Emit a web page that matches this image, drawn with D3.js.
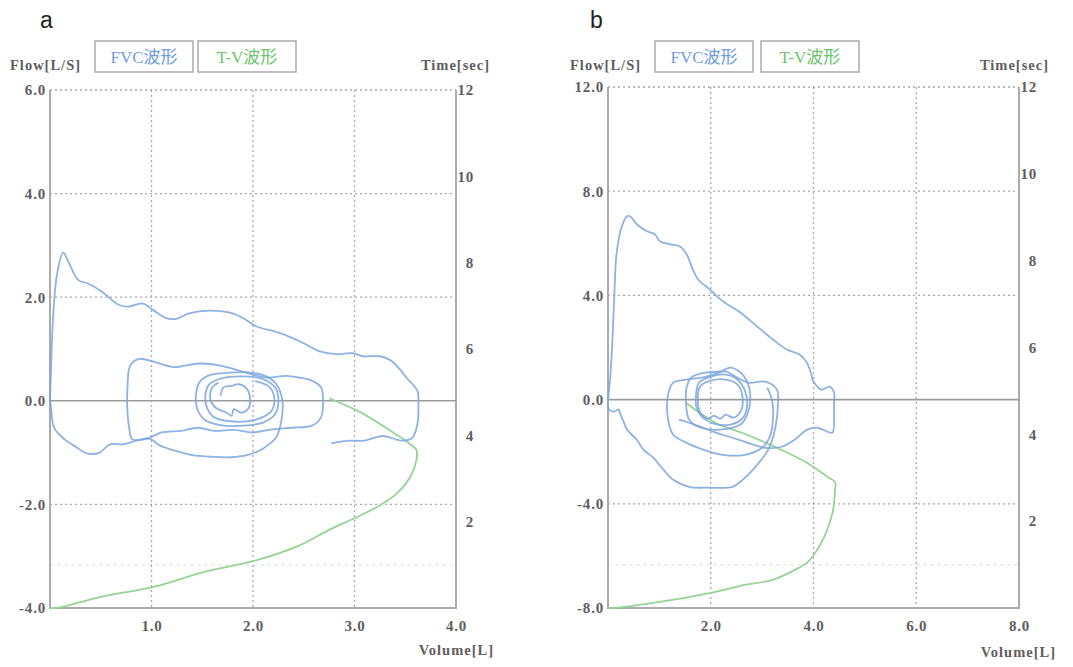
<!DOCTYPE html>
<html><head><meta charset="utf-8">
<script src="https://cdn.jsdelivr.net/npm/d3@7"></script>
<style>body{margin:0;background:#fff}svg{display:block}</style>
</head><body>
<svg id="c" width="1073" height="667"></svg>
<script>
// ---------- tick labels ----------
const timeTicks = [2, 4, 6, 8, 10, 12];
const volTicksA = [1, 2, 3, 4];
const flowTicksA = [-4, -2, 0, 2, 4, 6];
const volTicksB = [2, 4, 6, 8];
const flowTicksB = [-8, -4, 0, 4, 8, 12];
const legendLabels = ["FVC波形", "T-V波形"];
const panelLetters = ["a", "b"];

// ---------- panel a : FVC waveform [volume L, flow L/s] ----------
const fvcA_expiration = [[0,0],[0.01,0.6],[0.03,1.6],[0.07,2.45],[0.13,2.86],[0.18,2.69],[0.28,2.33],[0.38,2.26],[0.51,2.11],[0.68,1.85],[0.78,1.82],[0.91,1.88],[1.01,1.76],[1.14,1.60],[1.24,1.58],[1.37,1.69],[1.57,1.74],[1.80,1.69],[1.90,1.60],[2.03,1.44],[2.26,1.31],[2.49,1.12],[2.65,0.96],[2.82,0.90],[2.98,0.92],[3.08,0.86],[3.25,0.86],[3.35,0.79],[3.45,0.60],[3.51,0.45],[3.62,0.19],[3.63,-0.06],[3.62,-0.45],[3.57,-0.71],[3.47,-0.77],[3.28,-0.68],[3.09,-0.77],[2.96,-0.77],[2.77,-0.82]];
const fvcA_inspiration = [[0,0],[0.01,-0.13],[0.04,-0.52],[0.14,-0.74],[0.24,-0.87],[0.37,-1.02],[0.49,-1.0],[0.59,-0.84],[0.72,-0.84],[0.85,-0.77],[0.98,-0.73],[1.08,-0.86],[1.21,-0.95],[1.40,-1.05],[1.59,-1.08],[1.78,-1.09],[1.94,-1.05],[2.10,-0.92],[2.23,-0.70],[2.28,-0.38],[2.29,0],[2.23,0.32],[2.12,0.48],[1.95,0.55],[1.75,0.54],[1.58,0.50],[1.48,0.38],[1.44,0.15],[1.45,-0.15],[1.52,-0.36],[1.68,-0.47],[1.90,-0.48],[2.10,-0.42],[2.22,-0.25],[2.25,0.0],[2.22,0.25],[2.10,0.42],[1.90,0.47],[1.70,0.44],[1.57,0.32],[1.53,0.10],[1.55,-0.15],[1.62,-0.32],[1.80,-0.40],[2.02,-0.37],[2.18,-0.2],[2.21,0.05],[2.16,0.27],[2.02,0.38]];
const fvcA_wideLoop = [[0.77,0.52],[0.80,0.71],[0.88,0.81],[1.01,0.76],[1.10,0.71],[1.23,0.65],[1.33,0.68],[1.49,0.72],[1.68,0.68],[1.87,0.58],[2.13,0.45],[2.32,0.48],[2.45,0.45],[2.58,0.39],[2.67,0.26],[2.69,0],[2.67,-0.32],[2.58,-0.48],[2.38,-0.52],[2.19,-0.55],[2.0,-0.61],[1.81,-0.56],[1.62,-0.58],[1.46,-0.52],[1.29,-0.58],[1.10,-0.61],[0.94,-0.74],[0.81,-0.74],[0.78,-0.52],[0.76,-0.06],[0.77,0.52]];
const fvcA_innerCurl = [[1.68,0.10],[1.71,0.26],[1.79,0.29],[1.86,0.32],[1.94,0.23],[1.97,0.06],[1.96,-0.13],[1.89,-0.23],[1.81,-0.16],[1.79,-0.29],[1.74,-0.23],[1.63,-0.13],[1.58,0.03],[1.60,0.26],[1.66,0.35]];
// ---------- panel a : T-V waveform [volume L, time s] ----------
const tvA = [[0,0],[0.07,0],[0.50,0.26],[1.02,0.49],[1.53,0.84],[2.01,1.09],[2.43,1.42],[2.75,1.81],[3.0,2.08],[3.26,2.39],[3.42,2.66],[3.55,3.04],[3.61,3.43],[3.61,3.66],[3.52,3.85],[3.39,4.05],[3.07,4.52],[2.75,4.86]];

// ---------- panel b : FVC waveform [volume L, flow L/s] ----------
const fvcB_expiration = [[0,0],[0.04,0.77],[0.08,2.04],[0.12,3.85],[0.17,5.65],[0.27,6.65],[0.37,7.04],[0.43,7.04],[0.56,6.73],[0.76,6.46],[0.91,6.35],[1.01,6.08],[1.21,5.96],[1.40,5.88],[1.53,5.58],[1.65,5.0],[1.75,4.62],[1.98,4.23],[2.24,3.77],[2.57,3.35],[2.90,2.81],[3.21,2.31],[3.48,1.92],[3.73,1.73],[3.87,1.42],[3.97,0.88],[3.98,0.77],[4.15,0.38],[4.31,0.5],[4.40,0.27],[4.40,-0.12],[4.40,-0.5],[4.37,-1.27],[4.27,-1.23],[4.08,-1.08],[3.88,-1.15],[3.63,-1.54],[3.38,-1.81],[3.06,-1.85],[2.67,-1.62],[2.23,-1.35],[1.85,-1.08],[1.52,-0.85],[1.38,-0.77]];
const fvcB_inspiration = [[0,0],[0.02,-0.38],[0.12,-0.46],[0.21,-0.38],[0.23,-0.5],[0.31,-0.88],[0.37,-1.15],[0.56,-1.54],[0.69,-1.92],[0.88,-2.23],[1.08,-2.69],[1.27,-3.08],[1.58,-3.35],[1.96,-3.38],[2.42,-3.35],[2.62,-3.08],[2.87,-2.58],[3.12,-1.92],[3.25,-1.15],[3.31,-0.12],[3.29,0.38],[3.06,0.69],[2.73,0.65],[2.48,0.88],[2.29,1.08],[2.10,1.0],[1.85,0.85],[1.52,0.77],[1.27,0.65],[1.17,0.19],[1.17,-0.77],[1.27,-1.35],[1.52,-1.65],[1.85,-1.92],[2.23,-2.12],[2.67,-2.12],[3.0,-1.85],[3.15,-1.42],[3.21,-0.77],[3.19,0],[3.10,0.46]];
const fvcB_loop1 = [[1.52,0.38],[1.62,0.85],[1.90,1.04],[2.19,1.08],[2.38,1.23],[2.58,1.04],[2.73,0.58],[2.77,0],[2.71,-0.58],[2.58,-0.96],[2.19,-1.15],[1.81,-1.08],[1.58,-0.77],[1.52,-0.19],[1.52,0.38]];
const fvcB_loop2 = [[1.71,0],[1.77,0.65],[2.0,0.88],[2.29,0.96],[2.52,0.77],[2.67,0.31],[2.71,-0.19],[2.63,-0.69],[2.38,-0.96],[2.06,-0.92],[1.81,-0.62],[1.71,-0.19],[1.71,0]];
const fvcB_loop3 = [[1.75,0],[1.79,0.5],[2.0,0.73],[2.29,0.77],[2.52,0.58],[2.62,0.08],[2.58,-0.46],[2.44,-0.69],[2.29,-0.58],[2.19,-0.73],[2.06,-0.62],[1.94,-0.73],[1.81,-0.54],[1.75,-0.19],[1.75,0]];
// ---------- panel b : T-V waveform [volume L, time s] ----------
const tvB = [[0,0],[0.1,0],[1.01,0.14],[2.0,0.35],[2.66,0.53],[3.21,0.65],[3.64,0.88],[3.87,1.04],[3.98,1.18],[4.21,1.64],[4.37,2.19],[4.42,2.72],[4.42,2.90],[4.27,3.02],[3.88,3.34],[3.25,3.71],[2.62,4.03],[2.10,4.26],[1.52,4.72]];

// ---------- drawing ----------
const svg = d3.select('#c');
const serif = "'Liberation Serif','DejaVu Serif','Noto Sans CJK JP',serif";
const textCol = '#5e5e5e';
const axisCol = '#ababab';
const blue = '#7aa4de';
const green = '#96d494';

function panel(cfg) {
  const x = d3.scaleLinear().domain([0, cfg.volTicks[cfg.volTicks.length - 1]]).range([cfg.left, cfg.right]);
  const y = d3.scaleLinear().domain([cfg.flowTicks[0], cfg.flowTicks[cfg.flowTicks.length - 1]]).range([cfg.bottom, cfg.top]);
  const yt = d3.scaleLinear().domain([0, 12]).range([cfg.bottom, cfg.top]);
  const g = svg.append('g');

  // faint 1-second line
  g.append('line').attr('x1', cfg.left).attr('x2', cfg.right).attr('y1', yt(1)).attr('y2', yt(1))
    .attr('stroke', '#e6e6e6').attr('stroke-width', 1.2).attr('stroke-dasharray', '4,3');

  // vertical dotted grid
  g.selectAll('.vg').data(cfg.volTicks.slice(0, -1)).join('line')
    .attr('x1', d => x(d)).attr('x2', d => x(d)).attr('y1', cfg.top).attr('y2', cfg.bottom)
    .attr('stroke', '#a8a8a8').attr('stroke-width', 1.3).attr('stroke-dasharray', '2,3');
  // horizontal dotted grid
  g.selectAll('.hg').data(cfg.flowTicks.filter(d => d !== 0 && d !== cfg.flowTicks[0])).join('line')
    .attr('x1', cfg.left).attr('x2', cfg.right).attr('y1', d => y(d)).attr('y2', d => y(d))
    .attr('stroke', '#a8a8a8').attr('stroke-width', 1.3).attr('stroke-dasharray', '2,3');

  // frame: left, right, bottom solid
  g.append('path').attr('d', `M${cfg.left},${cfg.top}V${cfg.bottom}H${cfg.right}V${cfg.top}`)
    .attr('fill', 'none').attr('stroke', axisCol).attr('stroke-width', 2);
  // zero line
  g.append('line').attr('x1', cfg.left).attr('x2', cfg.right).attr('y1', y(0)).attr('y2', y(0))
    .attr('stroke', '#9c9c9c').attr('stroke-width', 1.6);

  // axes (labels only)
  const fmt = d => d.toFixed(1);
  const ax = [
    g.append('g').attr('transform', `translate(${cfg.left},0)`)
      .call(d3.axisLeft(y).tickValues(cfg.flowTicks).tickFormat(fmt).tickSize(0).tickPadding(4)),
    g.append('g').attr('transform', `translate(0,${cfg.bottom})`)
      .call(d3.axisBottom(x).tickValues(cfg.volTicks).tickFormat(fmt).tickSize(0).tickPadding(12)),
    g.append('g').attr('transform', `translate(${cfg.right},0)`)
      .call(d3.axisRight(yt).tickValues(timeTicks).tickFormat(d3.format('d')).tickSize(0).tickPadding(cfg.rightPad))
  ];
  ax.forEach(a => {
    a.select('.domain').remove();
    a.selectAll('text').attr('fill', textCol).style('font-family', serif).style('font-size', '15px')
      .style('font-weight', 'bold').style('letter-spacing', '0.8px');
  });
  ax[2].selectAll('text').attr('text-anchor', 'end');

  // axis titles
  const title = (tx, ty, s, anchor) => g.append('text').attr('x', tx).attr('y', ty).text(s)
    .attr('text-anchor', anchor).attr('fill', textCol).style('font-family', serif)
    .style('font-size', '14.5px').style('font-weight', 'bold').style('letter-spacing', '1px');
  title(cfg.flowLabelX, 70, 'Flow[L/S]', 'start');
  title(cfg.timeLabelX, 70, 'Time[sec]', 'end');
  title(cfg.volLabelX, cfg.volLabelY, 'Volume[L]', 'end');

  // legend boxes
  const cols = ['#6f9cdc', '#6cc46a'];
  legendLabels.forEach((lab, i) => {
    const bx = cfg.legendX[i];
    g.append('rect').attr('x', bx).attr('y', 41).attr('width', 98).attr('height', 31)
      .attr('fill', '#fff').attr('stroke', '#b0b0b0').attr('stroke-width', 1.6);
    g.append('text').attr('x', bx + 49).attr('y', 63).attr('text-anchor', 'middle').text(lab)
      .attr('fill', cols[i]).style('font-family', serif).style('font-size', '17px');
  });

  // panel letter
  g.append('text').attr('x', cfg.letterX).attr('y', 28).text(cfg.letter)
    .attr('fill', '#222').style('font-family', "'Liberation Sans',Arial,sans-serif").style('font-size', '23px');

  // curves
  const lineF = d3.line().x(d => x(d[0])).y(d => y(d[1])).curve(d3.curveCatmullRom.alpha(0.5));
  const lineT = d3.line().x(d => x(d[0])).y(d => yt(d[1])).curve(d3.curveCatmullRom.alpha(0.5));
  g.append('path').attr('d', lineT(cfg.tv)).attr('fill', 'none').attr('stroke', green)
    .attr('stroke-width', 1.8);
  cfg.fvc.forEach(s => {
    g.append('path').attr('d', lineF(s)).attr('fill', 'none').attr('stroke', blue)
      .attr('stroke-width', 1.8).attr('stroke-opacity', 0.85).attr('stroke-linejoin', 'round');
  });
}

panel({
  left: 50, right: 456, top: 90, bottom: 608,
  volTicks: volTicksA, flowTicks: flowTicksA, rightPad: 18,
  flowLabelX: 10, timeLabelX: 490, volLabelX: 494, volLabelY: 655,
  legendX: [95, 198], letter: panelLetters[0], letterX: 40,
  fvc: [fvcA_expiration, fvcA_inspiration, fvcA_wideLoop, fvcA_innerCurl], tv: tvA
});
panel({
  left: 608, right: 1019, top: 87, bottom: 608,
  volTicks: volTicksB, flowTicks: flowTicksB, rightPad: 18,
  flowLabelX: 570, timeLabelX: 1049, volLabelX: 1056, volLabelY: 657,
  legendX: [655, 761], letter: panelLetters[1], letterX: 590,
  fvc: [fvcB_expiration, fvcB_inspiration, fvcB_loop1, fvcB_loop2, fvcB_loop3], tv: tvB
});
</script>
</body></html>
